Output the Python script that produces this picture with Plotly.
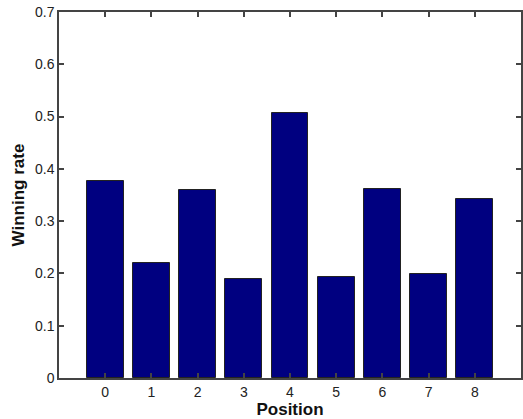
import plotly.graph_objects as go

positions = [0, 1, 2, 3, 4, 5, 6, 7, 8]
winning_rate = [0.376, 0.219, 0.359, 0.190, 0.506, 0.193, 0.361, 0.198, 0.342]
y_ticks = [0, 0.1, 0.2, 0.3, 0.4, 0.5, 0.6, 0.7]
y_tick_labels = ["0", "0.1", "0.2", "0.3", "0.4", "0.5", "0.6", "0.7"]

fig = go.Figure(go.Bar(
    x=positions, y=winning_rate, width=0.8,
    marker=dict(color="#000080", line=dict(color="#222222", width=1)),
))

axis_common = dict(
    showline=True, linecolor="#444444", linewidth=1.5, mirror="ticks",
    ticks="inside", ticklen=5, tickcolor="#444444", tickwidth=1.5,
    showgrid=False, zeroline=False, automargin=False,
    ticklabeloverflow="allow",
    tickfont=dict(family="Arial, Liberation Sans", size=14, color="#222222"),
)

fig.update_layout(
    width=523, height=419,
    margin=dict(l=59, r=2, t=12, b=41),
    plot_bgcolor="white", paper_bgcolor="white",
    showlegend=False, bargap=0,
    xaxis=dict(range=[-1, 9], tickvals=positions, ticktext=[str(p) for p in positions],
               title=dict(text="<b>Position</b>", standoff=1,
                          font=dict(family="Arial, Liberation Sans", size=17, color="#111111")),
               **axis_common),
    yaxis=dict(range=[0, 0.7], tickvals=y_ticks, ticktext=y_tick_labels,
               title=dict(text="<b>Winning rate</b>", standoff=6,
                          font=dict(family="Arial, Liberation Sans", size=17, color="#111111")),
               **axis_common),
)

fig.write_html("out.html", config={"displayModeBar": False},
               post_script="document.body.style.margin='0';")
